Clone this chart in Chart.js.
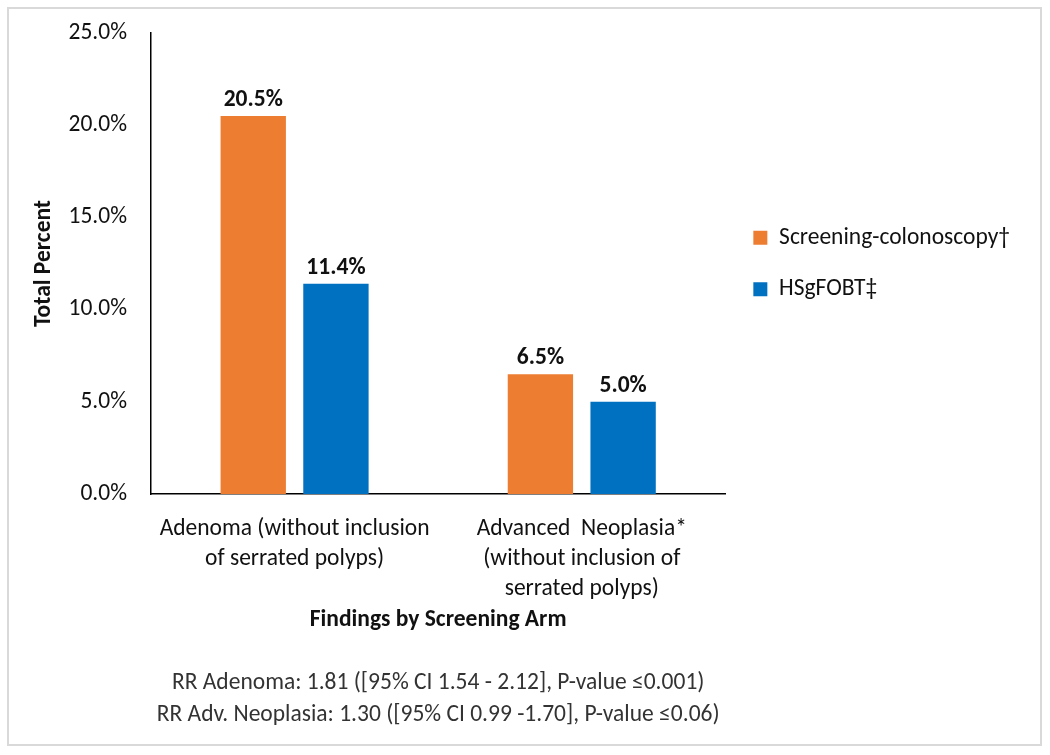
<!DOCTYPE html>
<html>
<head>
<meta charset="utf-8">
<script src="https://cdn.jsdelivr.net/npm/chart.js@4.4.1/dist/chart.umd.min.js"></script>
<style>
  html, body { margin: 0; padding: 0; background: #fff; }
  #wrap { position: relative; width: 1050px; height: 755px; }
  #frame { position: absolute; left: 7px; top: 7px; width: 1035px; height: 739px; box-sizing: border-box; border: 2px solid #d9d9d9; }
  #chart { position: absolute; left: 0; top: 0; }
</style>
</head>
<body>
<div id="wrap">
  <div id="frame"></div>
  <canvas id="chart" width="1050" height="755"></canvas>
</div>
<script>
// chart data
const categories = [
    ['Adenoma (without inclusion', 'of serrated polyps)'],
    ['Advanced  Neoplasia*', '(without inclusion of', 'serrated polyps)']
];
const seriesNames = ['Screening-colonoscopy\u2020', 'HSgFOBT\u2021'];
const colonoscopyValues = [20.5, 6.5];
const fobtValues = [11.4, 5.0];
const yTicks = [0, 5, 10, 15, 20, 25];
const footerLines = [
    'RR Adenoma: 1.81 ([95% CI 1.54 - 2.12], P-value \u22640.001)',
    'RR Adv. Neoplasia: 1.30 ([95% CI 0.99 -1.70], P-value \u22640.06)'
];

const FONT = 'Carlito, Lato, sans-serif';
const SIZE = 23.5;
const TEXT = '#111';

// draws the bold value above every bar
const valueLabels = {
    id: 'valueLabels',
    afterDatasetsDraw(chart) {
        const ctx = chart.ctx;
        ctx.save();
        ctx.font = 'bold ' + SIZE + 'px ' + FONT;
        ctx.fillStyle = TEXT;
        ctx.textAlign = 'center';
        ctx.textBaseline = 'alphabetic';
        chart.data.datasets.forEach((ds, i) => {
            chart.getDatasetMeta(i).data.forEach((bar, j) => {
                ctx.fillText(ds.data[j].toFixed(1) + '%', bar.x, bar.y - 10);
            });
        });
        ctx.restore();
    }
};

const ctx = document.getElementById('chart').getContext('2d');
new Chart(ctx, {
    type: 'bar',
    data: {
        labels: categories,
        datasets: [{
            label: seriesNames[0],
            data: colonoscopyValues,
            backgroundColor: '#ED7D31',
            categoryPercentage: 0.576,
            barPercentage: 0.79
        }, {
            label: seriesNames[1],
            data: fobtValues,
            backgroundColor: '#0070C0',
            categoryPercentage: 0.576,
            barPercentage: 0.79
        }]
    },
    options: {
        responsive: false,
        animation: false,
        layout: { padding: { left: 30, right: 30, top: 33, bottom: 24 } },
        plugins: {
            legend: {
                position: 'right',
                fullSize: false,
                align: 'center',
                maxWidth: 340,
                labels: {
                    boxWidth: 14,
                    boxHeight: 14,
                    padding: 28,
                    color: TEXT,
                    font: { family: FONT, size: SIZE }
                }
            },
            title: {
                display: true,
                position: 'bottom',
                fullSize: false,
                text: footerLines,
                color: '#333',
                font: { family: FONT, size: SIZE, weight: 'normal', lineHeight: 32 / SIZE },
                padding: { top: 33, bottom: 0 }
            },
            tooltip: { enabled: false }
        },
        scales: {
            x: {
                grid: { display: false, drawTicks: false },
                border: { display: true, color: '#000', width: 1.5 },
                afterFit: scale => {
                    scale.height = 140;
                    // long category labels should not push the plot area inwards
                    scale.paddingLeft = 0;
                    scale.paddingRight = 0;
                },
                ticks: {
                    color: TEXT,
                    font: { family: FONT, size: SIZE, lineHeight: 30 / SIZE },
                    padding: 20,
                    maxRotation: 0,
                    autoSkip: false
                },
                title: {
                    display: true,
                    text: 'Findings by Screening Arm',
                    color: TEXT,
                    font: { family: FONT, size: SIZE, weight: 'bold' },
                    padding: { top: 8, bottom: 0 }
                }
            },
            y: {
                min: 0,
                max: 25,
                grid: { display: false, drawTicks: false },
                border: { display: true, color: '#000', width: 1.5 },
                afterBuildTicks: scale => {
                    scale.ticks = yTicks.map(v => ({ value: v }));
                },
                afterFit: scale => {
                    scale.width = 121;
                    scale.paddingTop = 0;
                    scale.paddingBottom = 0;
                },
                ticks: {
                    color: TEXT,
                    font: { family: FONT, size: SIZE },
                    padding: 24,
                    callback: v => v.toFixed(1) + '%'
                },
                title: {
                    display: true,
                    text: 'Total Percent',
                    color: TEXT,
                    font: { family: FONT, size: SIZE, weight: 'bold' },
                    padding: { top: 0, bottom: 12 }
                }
            }
        }
    },
    plugins: [valueLabels]
});
</script>
</body>
</html>
